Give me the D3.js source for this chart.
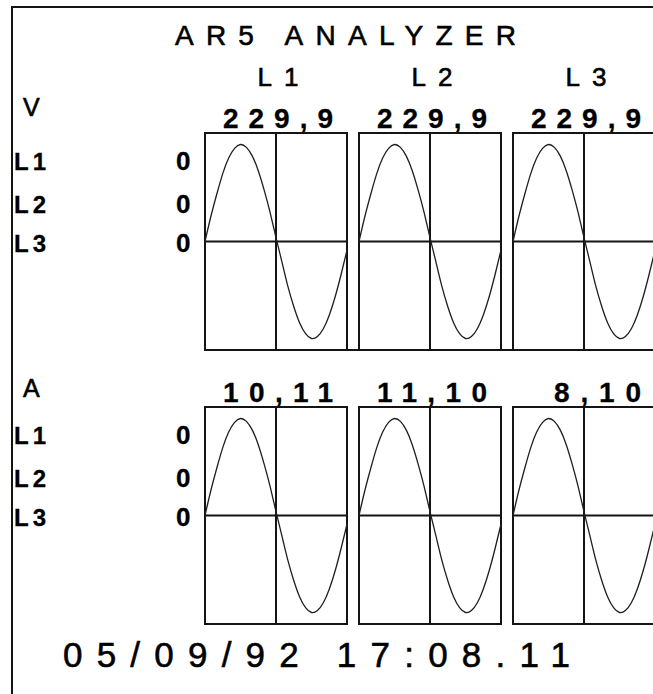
<!DOCTYPE html>
<html>
<head>
<meta charset="utf-8">
<script src="https://cdn.jsdelivr.net/npm/d3@7"></script>
<style>
    html, body { margin: 0; padding: 0; background: #fff; }
    svg { display: block; }
    text { font-family: "Liberation Sans", Arial, sans-serif; fill: #000; stroke: #000; stroke-width: 0.6; }
    text.bold { font-weight: bold; stroke-width: 0.3; }
</style>
</head>
<body>
<svg id="chart" width="653" height="694"></svg>
<script>
'use strict';

var title = 'AR5 ANALYZER';
var stamp = '05/09/92 17:08.11';
var phases = ['L1', 'L2', 'L3'];
var voltages = ['229,9', '229,9', '229,9'];
var currents = ['10,11', '11,10', '8,10'];
var voltOffsets = ['0', '0', '0'];
var ampOffsets = ['0', '0', '0'];
// scope trace, one sample per 1/24 of a panel width
var wave = [0, 0.26, 0.49, 0.70, 0.86, 0.96, 1.00, 0.97, 0.88, 0.73, 0.53, 0.30, 0.04,
    -0.21, -0.46, -0.67, -0.84, -0.95, -1.00, -0.98, -0.90, -0.76, -0.57, -0.34, -0.09];

var W = 653, H = 694,
    ink = '#141414',
    panelW = 142,
    panelH = 217;

var svg = d3.select('#chart');

// panel left edge by column index
var col = d3.scaleLinear().domain([0, 1]).range([205, 359]);
var u = d3.scaleLinear().domain([0, wave.length - 1]).range([0, 1]);

var rows = [
    {sym: 'V', symY: 116, top: 133, values: voltages, offsets: voltOffsets, joined: true},
    {sym: 'A', symY: 397, top: 407, values: currents, offsets: ampOffsets, joined: false}
];

// outer frame (only top and left visible)
svg.append('path')
    .attr('d', `M12,${H} V7 H${W}`)
    .attr('fill', 'none')
    .attr('stroke', ink)
    .attr('stroke-width', 2);

svg.append('text')
    .attr('x', 175).attr('y', 45)
    .attr('font-size', 28)
    .attr('textLength', 341)
    .attr('lengthAdjust', 'spacing')
    .text(title);

// phase headers over the voltage panels
svg.selectAll('text.phase')
    .data(phases)
    .enter().append('text')
    .attr('class', 'phase')
    .attr('x', (d, i) => col(i) + panelW / 2 + 2)
    .attr('y', 86)
    .attr('text-anchor', 'middle')
    .attr('font-size', 26)
    .attr('textLength', 41)
    .attr('lengthAdjust', 'spacing')
    .text(d => d);

function drawRow(row) {
    var g = svg.append('g');

    g.append('text')
        .attr('x', 23).attr('y', row.symY)
        .attr('font-size', 25)
        .text(row.sym);

    var offs = [37, 80, 119];
    phases.forEach((p, i) => {
        g.append('text')
            .attr('class', 'bold')
            .attr('x', 14).attr('y', row.top + offs[i])
            .attr('font-size', 24)
            .attr('textLength', 32)
            .attr('lengthAdjust', 'spacing')
            .text(p);
        g.append('text')
            .attr('class', 'bold')
            .attr('x', 176).attr('y', row.top + offs[i])
            .attr('font-size', 26)
            .text(row.offsets[i]);
    });

    // readings, right aligned in a fixed character field
    g.selectAll('text.val')
        .data(row.values)
        .enter().append('text')
        .attr('class', 'val bold')
        .attr('x', (d, i) => col(i) + 128)
        .attr('y', row.top - 5)
        .attr('text-anchor', 'end')
        .attr('font-size', 28)
        .attr('textLength', d => d.length * 23 - 5)
        .attr('lengthAdjust', 'spacing')
        .text(d => d);

    phases.forEach((p, i) => {
        var x = d3.scaleLinear().range([col(i), col(i) + panelW]),
            y = d3.scaleLinear().domain([-1, 1])
                .range([row.top + panelH / 2 + 97, row.top + panelH / 2 - 97]);

        var panel = g.append('g');
        panel.append('rect')
            .attr('x', x(0)).attr('y', row.top)
            .attr('width', panelW).attr('height', panelH)
            .attr('fill', 'none')
            .attr('stroke', ink)
            .attr('stroke-width', 2);
        panel.append('line')
            .attr('x1', x(0.5)).attr('x2', x(0.5))
            .attr('y1', row.top).attr('y2', row.top + panelH)
            .attr('stroke', ink).attr('stroke-width', 2);
        panel.append('line')
            .attr('x1', x(0)).attr('x2', x(1))
            .attr('y1', y(0)).attr('y2', y(0))
            .attr('stroke', ink).attr('stroke-width', 2);

        var line = d3.line()
            .x((d, k) => x(u(k)))
            .y(d => y(d))
            .curve(d3.curveNatural);
        panel.append('path')
            .attr('d', line(wave))
            .attr('fill', 'none')
            .attr('stroke', '#1e1e1e')
            .attr('stroke-width', 1.3);
    });

    if (row.joined) {
        g.append('line')
            .attr('x1', col(0)).attr('x2', W)
            .attr('y1', row.top + panelH).attr('y2', row.top + panelH)
            .attr('stroke', ink).attr('stroke-width', 2);
    }
}

rows.forEach(drawRow);

svg.append('text')
    .attr('x', 63).attr('y', 667)
    .attr('font-size', 35)
    .attr('textLength', 507)
    .attr('lengthAdjust', 'spacing')
    .text(stamp);
</script>
</body>
</html>
